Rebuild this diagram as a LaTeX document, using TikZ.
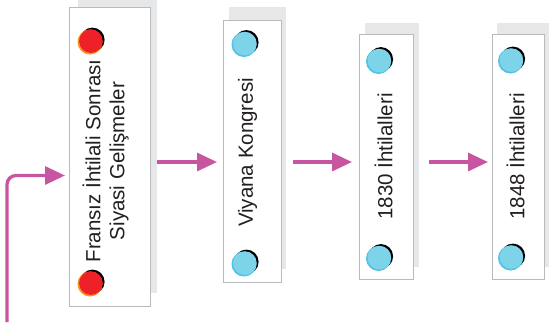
\documentclass[tikz,border=0pt]{standalone}
\usepackage{fontspec}
\setmainfont{Liberation Sans}
\usetikzlibrary{arrows.meta}
\definecolor{shadowc}{HTML}{E6E7E8}
\definecolor{borderc}{HTML}{B8BABC}
\definecolor{arrowc}{HTML}{C8559F}
\definecolor{redc}{HTML}{EE2028}
\definecolor{orangec}{HTML}{F7941D}
\definecolor{bluec}{HTML}{7DD3E8}
\definecolor{bluerim}{HTML}{4FC3EA}
\definecolor{textc}{HTML}{231F20}
\newcommand\mydot[3]{%
  \begin{scope}[shift={(#1)}]
    \fill[black] (2.4,-2.2) circle (12.2pt);
    \fill[#3] (0,0) circle (12.5pt);
    \fill[#2] (0.9,-0.9) circle (11.8pt);
  \end{scope}}
\begin{document}
\begin{tikzpicture}[x=1pt,y=-1pt,
  shadowbox/.style={fill=shadowc,draw=none,inner sep=0pt,outer sep=0pt},
  whitebox/.style={fill=white,draw=borderc,line width=0.9pt,inner sep=0pt,outer sep=0pt},
  label/.style={rotate=90,text=textc,font=\fontsize{20.5}{24}\selectfont,inner sep=0pt,align=center},
  arr/.style={draw=arrowc,line width=3.3pt,-{Triangle[length=20pt,width=18pt]}}]
\useasboundingbox (0,0) rectangle (549,322);
% shadows
\node[shadowbox,minimum width=79pt,minimum height=293pt] (s1) at (117.5,146.5) {};
\node[shadowbox,minimum width=57pt,minimum height=262pt] (s2) at (257.5,138) {};
\node[shadowbox,minimum width=54pt,minimum height=244pt] (s3) at (392,145) {};
\node[shadowbox,minimum width=52pt,minimum height=244pt] (s4) at (523,145) {};
% boxes
\node[whitebox,minimum width=81pt,minimum height=299pt] (b1) at (109.5,156.5) {};
\node[whitebox,minimum width=58pt,minimum height=262pt] (b2) at (252,151) {};
\node[whitebox,minimum width=54pt,minimum height=245pt] (b3) at (386,156.5) {};
\node[whitebox,minimum width=52pt,minimum height=245pt] (b4) at (518,156.5) {};
% dots
\mydot{90,42}{redc}{orangec}
\mydot{90,284}{redc}{orangec}
\mydot{244,44.5}{bluec}{bluerim}
\mydot{244,264}{bluec}{bluerim}
\mydot{378.5,61.5}{bluec}{bluerim}
\mydot{378.5,258.5}{bluec}{bluerim}
\mydot{510.5,61}{bluec}{bluerim}
\mydot{510.5,258}{bluec}{bluerim}
% labels
\node[label] (t1) at (105.7,161) {Fransız İhtilali Sonrası\\Siyasi Gelişmeler};
\node[label] (t2) at (247.5,152.5) {Viyana Kongresi};
\node[label] (t3) at (383.5,156.5) {1830 İhtilalleri};
\node[label] (t4) at (515.5,156.5) {1848 İhtilalleri};
% arrows
\coordinate (ay) at (0,162);
\coordinate (start) at (7,322);
\coordinate (bend) at (7,175.5);
\draw[arr] (s1.east |- ay) -- ([xshift=-6pt]b2.west |- ay);
\draw[arr] ([xshift=7pt]s2.east |- ay) -- ([xshift=-7pt]b3.west |- ay);
\draw[arr] ([xshift=10pt]s3.east |- ay) -- ([xshift=-4pt]b4.west |- ay);
\draw[arr,rounded corners=9pt] (start) -- (bend) -- ([xshift=-4pt]b1.west |- bend);
\end{tikzpicture}
\end{document}
